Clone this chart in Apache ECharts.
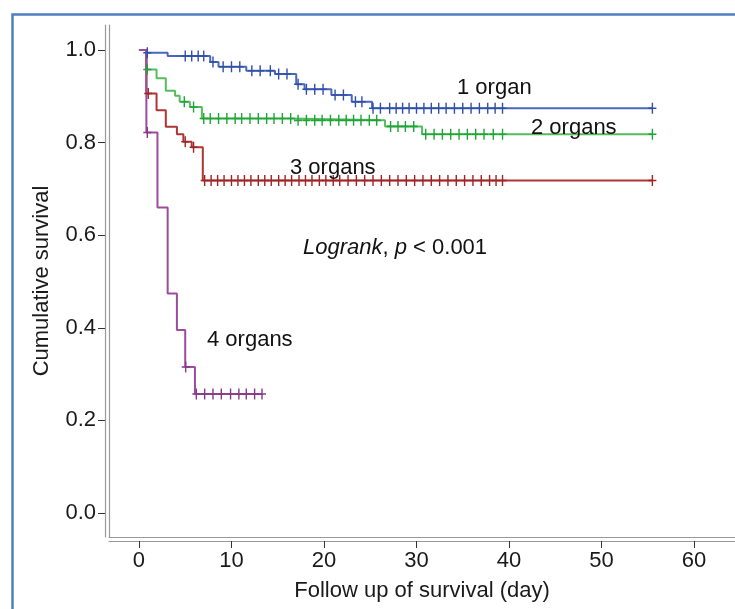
<!DOCTYPE html>
<html>
<head>
<meta charset="utf-8">
<script src="https://cdn.jsdelivr.net/npm/echarts@6/dist/echarts.min.js"></script>
<style>
html,body{margin:0;padding:0;background:#fff;}
#chart{width:735px;height:609px;}
</style>
</head>
<body>
<div id="chart"></div>
<script>
// ---- Data ----
const xTicks = [0, 10, 20, 30, 40, 50, 60];
const yTicks = [0.0, 0.2, 0.4, 0.6, 0.8, 1.0];

// 1 organ: event times (days) and survival after each step
const organ1Times = [0, 0.8, 3.1, 7.7, 8.6, 11.6, 14.7, 17.0, 17.9, 20.8, 23.0, 25.2, 55.5];
const organ1Surv  = [1.0, 0.994, 0.987, 0.974, 0.964, 0.955, 0.948, 0.926, 0.915, 0.903, 0.888, 0.874, 0.874];
const organ1Censor = [0.9, 5.0, 5.7, 6.4, 7.0, 8.0, 9.1, 10.0, 10.9, 12.2, 13.1, 14.2, 15.1, 16.0, 17.2, 18.1, 19.0, 19.9, 21.2, 22.1, 23.4, 24.1, 25.3, 26.1, 27.1, 27.8, 28.5, 29.2, 30.0, 30.8, 31.6, 32.4, 33.2, 34.1, 35.0, 35.9, 36.8, 37.7, 38.5, 39.3, 55.5];

// 2 organs
const organ2Times = [0, 0.8, 1.9, 2.9, 3.9, 4.4, 5.5, 6.8, 16.5, 26.6, 30.6, 55.5];
const organ2Surv  = [1.0, 0.958, 0.939, 0.912, 0.901, 0.888, 0.877, 0.852, 0.848, 0.835, 0.818, 0.818];
const organ2Censor = [0.9, 4.9, 5.9, 7.0, 7.7, 8.6, 9.5, 10.4, 11.1, 12.0, 12.9, 13.8, 14.6, 15.5, 16.4, 17.2, 18.1, 19.0, 19.8, 20.7, 21.6, 22.4, 23.2, 24.0, 24.9, 25.7, 27.2, 28.0, 28.8, 29.7, 31.0, 31.9, 32.8, 33.7, 34.6, 35.5, 36.4, 37.3, 38.3, 39.3, 55.5];

// 3 organs
const organ3Times = [0, 0.8, 1.9, 2.9, 4.1, 4.8, 5.7, 6.9, 55.5];
const organ3Surv  = [1.0, 0.906, 0.870, 0.834, 0.818, 0.802, 0.790, 0.718, 0.718];
const organ3Censor = [1.0, 5.0, 5.9, 7.1, 7.8, 8.5, 9.2, 10.0, 10.7, 11.4, 12.1, 12.9, 13.6, 14.3, 15.1, 15.8, 16.5, 17.3, 18.0, 18.7, 19.5, 20.2, 21.0, 21.7, 22.6, 23.5, 24.4, 25.3, 26.2, 27.1, 28.0, 28.9, 29.8, 30.7, 31.6, 32.5, 33.4, 34.3, 35.2, 36.1, 37.0, 37.9, 38.6, 39.3, 55.5];

// 4 organs
const organ4Times = [0, 0.8, 2.0, 3.1, 4.1, 5.0, 6.05, 13.3];
const organ4Surv  = [1.0, 0.822, 0.660, 0.474, 0.395, 0.315, 0.257, 0.257];
const organ4Censor = [0.9, 5.05, 6.2, 7.1, 8.0, 8.9, 9.9, 10.8, 11.6, 12.5, 13.3];

const groupNames = ['1 organ', '2 organs', '3 organs', '4 organs'];
const lineColors = ['#4868c0', '#55bd5e', '#b03434', '#9c4c9c'];
const markColors = ['#3050a8', '#20a438', '#a02424', '#883888'];

// ---- Build ----
function curve(times, surv) { return times.map((t, i) => [t, surv[i]]); }
function survAt(times, surv, t) {
  let s = surv[0];
  for (let i = 0; i < times.length; i++) if (times[i] <= t) s = surv[i];
  return s;
}
function censorPts(times, surv, cens) { return cens.map(t => [t, survAt(times, surv, t)]); }

const groups = [
  [organ1Times, organ1Surv, organ1Censor],
  [organ2Times, organ2Surv, organ2Censor],
  [organ3Times, organ3Surv, organ3Censor],
  [organ4Times, organ4Surv, organ4Censor]
];

const plusPath = 'path://M-0.7,-5H0.7V-0.7H4V0.7H0.7V5H-0.7V0.7H-4V-0.7H-0.7Z';

const series = [];
groups.forEach((g, k) => {
  series.push({
    name: groupNames[k], type: 'line', step: 'end', xAxisIndex: 0, yAxisIndex: 0,
    data: curve(g[0], g[1]), showSymbol: false, symbol: 'none',
    lineStyle: { color: lineColors[k], width: 2 }, z: 3 + k, silent: true
  });
  series.push({
    name: groupNames[k] + ' censored', type: 'scatter', xAxisIndex: 0, yAxisIndex: 0,
    data: censorPts(g[0], g[1], g[2]), symbol: plusPath, symbolSize: [8, 11],
    itemStyle: { color: markColors[k], opacity: 1 }, z: 10 + k, silent: true
  });
});

const X_MIN = -3.24, X_MAX = 64.43, Y_MIN = -0.052, Y_MAX = 1.054;
const font = 'Liberation Sans, Arial, sans-serif';
const axisGray = '#999999';

const option = {
  animation: false,
  backgroundColor: '#ffffff',
  grid: { left: 109, top: 25, right: 0, bottom: 72, containLabel: false },
  xAxis: [
    { type: 'value', min: X_MIN, max: X_MAX, position: 'bottom',
      axisLine: { show: true, onZero: false, lineStyle: { color: axisGray, width: 1.2 } },
      axisTick: { show: false }, axisLabel: { show: false }, splitLine: { show: false } },
    { type: 'value', min: X_MIN, max: X_MAX, position: 'bottom', offset: 4,
      axisLine: { show: true, onZero: false, lineStyle: { color: axisGray, width: 1.2 } },
      axisTick: { show: true, customValues: xTicks, length: 7, lineStyle: { color: '#333', width: 1 } },
      axisLabel: { show: true, customValues: xTicks, margin: 9, color: '#1a1a1a', fontSize: 22, fontFamily: font,
        formatter: v => String(Math.round(v)) },
      splitLine: { show: false },
      name: 'Follow up of survival (day)', nameLocation: 'middle', nameGap: 39,
      nameTextStyle: { color: '#1a1a1a', fontSize: 22, fontFamily: font } }
  ],
  yAxis: [
    { type: 'value', min: Y_MIN, max: Y_MAX, position: 'left',
      axisLine: { show: true, onZero: false, lineStyle: { color: axisGray, width: 1.2 } },
      axisTick: { show: false }, axisLabel: { show: false }, splitLine: { show: false } },
    { type: 'value', min: Y_MIN, max: Y_MAX, position: 'left', offset: 4,
      axisLine: { show: true, onZero: false, lineStyle: { color: axisGray, width: 1.2 } },
      axisTick: { show: true, customValues: yTicks, length: 7, lineStyle: { color: '#333', width: 1 } },
      axisLabel: { show: true, customValues: yTicks, margin: 9, color: '#1a1a1a', fontSize: 22, fontFamily: font,
        formatter: v => v.toFixed(1) },
      splitLine: { show: false },
      name: 'Cumulative survival', nameLocation: 'middle', nameGap: 52,
      nameTextStyle: { color: '#1a1a1a', fontSize: 22, fontFamily: font } }
  ],
  graphic: [
    { type: 'rect', left: 10, top: 12, silent: true,
      shape: { width: 760, height: 640 }, style: { fill: 'none', stroke: '#4f7fbf', lineWidth: 2.5 }, z: 0 },
    { type: 'text', x: 457, y: 88, style: { text: groupNames[0], font: '22px ' + font, fill: '#111', verticalAlign: 'middle' }, z: 100 },
    { type: 'text', x: 531, y: 128, style: { text: groupNames[1], font: '22px ' + font, fill: '#111', verticalAlign: 'middle' }, z: 100 },
    { type: 'text', x: 290, y: 168, style: { text: groupNames[2], font: '22px ' + font, fill: '#111', verticalAlign: 'middle' }, z: 100 },
    { type: 'text', x: 207, y: 340, style: { text: groupNames[3], font: '22px ' + font, fill: '#111', verticalAlign: 'middle' }, z: 100 },
    { type: 'text', x: 303, y: 248, z: 100,
      style: { text: '{i|Logrank}{n|, }{i|p}{n| < 0.001}', verticalAlign: 'middle',
        rich: { i: { fontStyle: 'italic', fontSize: 22, fontFamily: font, fill: '#111' },
                n: { fontSize: 22, fontFamily: font, fill: '#111' } } } }
  ],
  series: series
};

const chart = echarts.init(document.getElementById('chart'), null, { renderer: 'canvas' });
chart.setOption(option);
</script>
</body>
</html>
